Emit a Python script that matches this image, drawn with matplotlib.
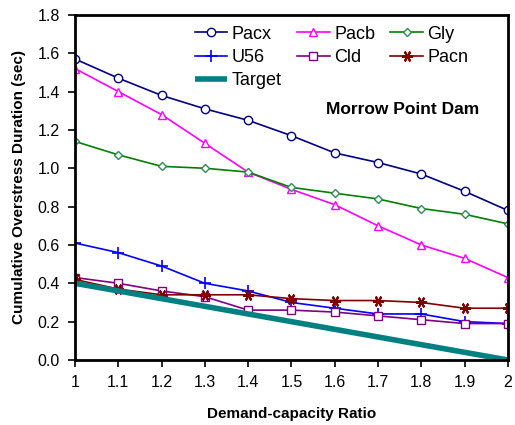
import matplotlib

matplotlib.use("Agg")

import matplotlib.pyplot as plt

plt.rcParams["font.family"] = ["Liberation Sans", "DejaVu Sans"]

ratios = [1.0, 1.1, 1.2, 1.3, 1.4, 1.5, 1.6, 1.7, 1.8, 1.9, 2.0]
tick_labels = ["1", "1.1", "1.2", "1.3", "1.4", "1.5", "1.6", "1.7", "1.8", "1.9", "2"]

pacx = [1.57, 1.47, 1.38, 1.31, 1.25, 1.17, 1.08, 1.03, 0.97, 0.88, 0.78]
pacb = [1.52, 1.40, 1.28, 1.13, 0.98, 0.89, 0.81, 0.70, 0.60, 0.53, 0.43]
gly = [1.14, 1.07, 1.01, 1.00, 0.98, 0.90, 0.87, 0.84, 0.79, 0.76, 0.71]
u56 = [0.61, 0.56, 0.49, 0.40, 0.36, 0.30, 0.27, 0.24, 0.24, 0.20, 0.19]
cld = [0.43, 0.40, 0.36, 0.33, 0.26, 0.26, 0.25, 0.23, 0.21, 0.19, 0.19]
pacn = [0.42, 0.37, 0.34, 0.34, 0.34, 0.32, 0.31, 0.31, 0.30, 0.27, 0.27]
target = [0.40, 0.36, 0.32, 0.28, 0.24, 0.20, 0.16, 0.12, 0.08, 0.04, 0.00]


def main():
    fig = plt.figure(figsize=(5.15, 4.25), dpi=100)
    ax = fig.add_axes([0.1456, 0.153, 0.8404, 0.812])

    common = dict(linewidth=1.2, markersize=6, markerfacecolor="white")
    h_pacx, = ax.plot(ratios, pacx, color="#000080", marker="o", label="Pacx", **common)
    h_pacb, = ax.plot(ratios, pacb, color="#FF00FF", marker="^", label="Pacb", **common)
    h_gly, = ax.plot(ratios, gly, color="#008000", marker="D", label="Gly",
                     linewidth=1.2, markersize=4, markerfacecolor="white",
                     markeredgecolor="#2E8B57")
    h_u56, = ax.plot(ratios, u56, color="#0000FF", marker="+", label="U56",
                     linewidth=1.2, markersize=8, markeredgewidth=1.2)
    h_cld, = ax.plot(ratios, cld, color="#800080", marker="s", label="Cld", **common)
    h_pacn, = ax.plot(ratios, pacn, color="#800000", marker=(6, 2, 90), label="Pacn",
                      linewidth=1.2, markersize=8, markeredgewidth=1.5)
    h_target, = ax.plot(ratios, target, color="#008080", linewidth=4, label="Target",
                        solid_capstyle="butt")

    ax.set_xlim(1.0, 2.0)
    ax.set_ylim(0.0, 1.8)
    ax.set_xticks(ratios)
    ax.set_xticklabels(tick_labels)
    ax.set_yticks([0.0, 0.2, 0.4, 0.6, 0.8, 1.0, 1.2, 1.4, 1.6, 1.8])
    ax.set_yticklabels([f"{v:.1f}" for v in ax.get_yticks()])
    ax.tick_params(direction="out", length=5, width=1.2, labelsize=11.5, pad=6)
    for spine in ax.spines.values():
        spine.set_linewidth(2)

    ax.set_xlabel("Demand-capacity Ratio", fontsize=11, fontweight="bold", labelpad=12)
    ax.set_ylabel("Cumulative Overstress Duration (sec)", fontsize=11,
                  fontweight="bold", labelpad=8)

    # column-major order so rows read Pacx/Pacb/Gly, U56/Cld/Pacn, Target
    handles = [h_pacx, h_u56, h_target, h_pacb, h_cld, h_gly, h_pacn]
    ax.legend(handles=handles, labels=[h.get_label() for h in handles],
              ncol=3, loc="upper left", bbox_to_anchor=(0.26, 0.99), frameon=False,
              fontsize=13, handlelength=1.8, handletextpad=0.25, columnspacing=0.85,
              labelspacing=0.35, borderaxespad=0.0)
    ax.text(0.935, 0.725, "Morrow Point Dam", transform=ax.transAxes, ha="right",
            va="center", fontsize=12.5, fontweight="bold")

    fig.savefig("out.png", dpi=100)
    plt.close(fig)


if __name__ == "__main__":
    main()
